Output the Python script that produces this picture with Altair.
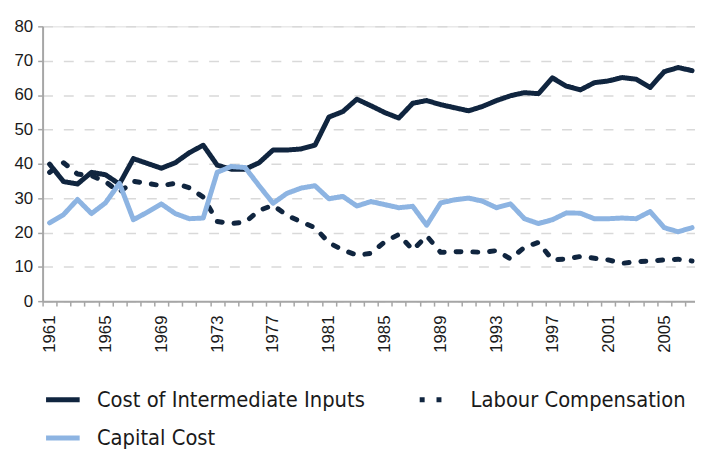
import altair as alt
import pandas as pd

years = list(range(1961, 2008))

intermediate = [39.9, 34.8, 34.1, 37.5, 36.8, 34.1, 41.5, 40.1, 38.7, 40.3,
                43.2, 45.4, 39.6, 38.4, 38.4, 40.3, 44.0, 44.0, 44.3, 45.4,
                53.6, 55.2, 58.8, 56.9, 54.9, 53.3, 57.6, 58.4, 57.2, 56.3,
                55.4, 56.7, 58.4, 59.8, 60.7, 60.4, 65.0, 62.6, 61.5, 63.6,
                64.1, 65.1, 64.6, 62.2, 66.8, 68.0, 67.1]

labour = [37.5, 40.3, 37.0, 36.5, 34.8, 31.7, 34.9, 34.3, 33.6, 34.3,
          33.0, 30.3, 23.2, 22.6, 23.0, 26.4, 27.9, 25.0, 23.1, 21.4,
          17.0, 14.9, 13.4, 13.9, 17.3, 19.4, 14.9, 19.0, 14.2, 14.4,
          14.4, 14.2, 14.7, 12.3, 15.7, 17.1, 12.0, 12.3, 13.0, 12.5,
          12.0, 11.0, 11.5, 11.7, 12.0, 12.2, 11.7]

capital = [22.8, 25.2, 29.6, 25.5, 28.6, 34.3, 23.7, 25.9, 28.3, 25.5,
           24.0, 24.2, 37.5, 39.2, 38.9, 33.6, 28.5, 31.4, 32.9, 33.6,
           29.8, 30.5, 27.7, 29.0, 28.1, 27.2, 27.6, 22.1, 28.6, 29.5,
           30.0, 29.1, 27.2, 28.3, 24.0, 22.6, 23.7, 25.7, 25.6, 24.0,
           24.0, 24.2, 24.0, 26.1, 21.4, 20.2, 21.4]

series_names = ["Cost of Intermediate Inputs", "Labour Compensation", "Capital Cost"]
series_colors = ["#10253f", "#10253f", "#8db4e2"]
series_dashes = [[1, 0], [5, 12], [1, 0]]
y_ticks = [0, 10, 20, 30, 40, 50, 60, 70, 80]

rows = []
for name, vals in zip(series_names, [intermediate, labour, capital]):
    for yr, v in zip(years, vals):
        rows.append({"year": yr, "value": v, "series": name})
df = pd.DataFrame(rows)

boundaries = [yr - 0.5 for yr in years]

PLOT_W = 660
PLOT_H = 278
x_lo = years[0] - 0.5
step = 14.13
x_hi = x_lo + PLOT_W / step

FONT = "Liberation Sans"
LEG_FONT = "DejaVu Sans Condensed"

x_enc = alt.X(
    "year:Q",
    scale=alt.Scale(domain=[x_lo, x_hi], nice=False, zero=False),
    axis=alt.Axis(
        values=boundaries,
        labelExpr="((datum.value + 0.5 - 1961) % 4 == 0) ? toString(datum.value + 0.5) : ''",
        labelOffset=step / 2,
        labelAngle=270,
        labelOverlap=False,
        labelFontSize=17,
        labelFont=FONT,
        labelColor="#1a1a1a",
        labelPadding=9,
        tickSize=5,
        tickColor="#a6a6a6",
        tickWidth=1.5,
        domainColor="#a6a6a6",
        domainWidth=2,
        grid=False,
        title=None,
    ),
)

y_enc = alt.Y(
    "value:Q",
    scale=alt.Scale(domain=[0, 80], nice=False),
    axis=alt.Axis(
        values=y_ticks,
        labelFontSize=17,
        labelFont=FONT,
        labelColor="#1a1a1a",
        labelPadding=5,
        tickSize=5,
        tickColor="#a6a6a6",
        tickWidth=1.5,
        domainColor="#a6a6a6",
        domainWidth=2,
        grid=True,
        gridColor="#d9d9d9",
        gridDash=[10, 11],
        gridWidth=1.5,
        title=None,
    ),
)

legend = alt.Legend(
    title=None,
    orient="none",
    direction="horizontal",
    legendX=1,
    legendY=358,
    columns=2,
    columnPadding=44,
    rowPadding=8,
    symbolType="stroke",
    symbolSize=1156,
    symbolStrokeWidth=5,
    labelFontSize=22,
    labelFont=LEG_FONT,
    labelColor="#1a1a1a",
    labelOffset=15,
    labelLimit=400,
)

chart = alt.Chart(df).mark_line(strokeWidth=5, strokeCap="round", strokeJoin="round").encode(
    x=x_enc,
    y=y_enc,
    color=alt.Color(
        "series:N",
        sort=series_names,
        scale=alt.Scale(domain=series_names, range=series_colors),
        legend=legend,
    ),
    strokeDash=alt.StrokeDash(
        "series:N",
        sort=series_names,
        scale=alt.Scale(domain=series_names, range=series_dashes),
        legend=legend,
    ),
    order=alt.Order("year:Q"),
).properties(
    width=PLOT_W,
    height=PLOT_H,
    autosize=alt.AutoSizeParams(type="none"),
    padding={"left": 35, "top": 16, "right": 0, "bottom": 147},
).configure_view(stroke="#a6a6a6", strokeWidth=2).configure(background="white")

chart.save("out.html", embed_options={"renderer": "svg", "actions": False})
